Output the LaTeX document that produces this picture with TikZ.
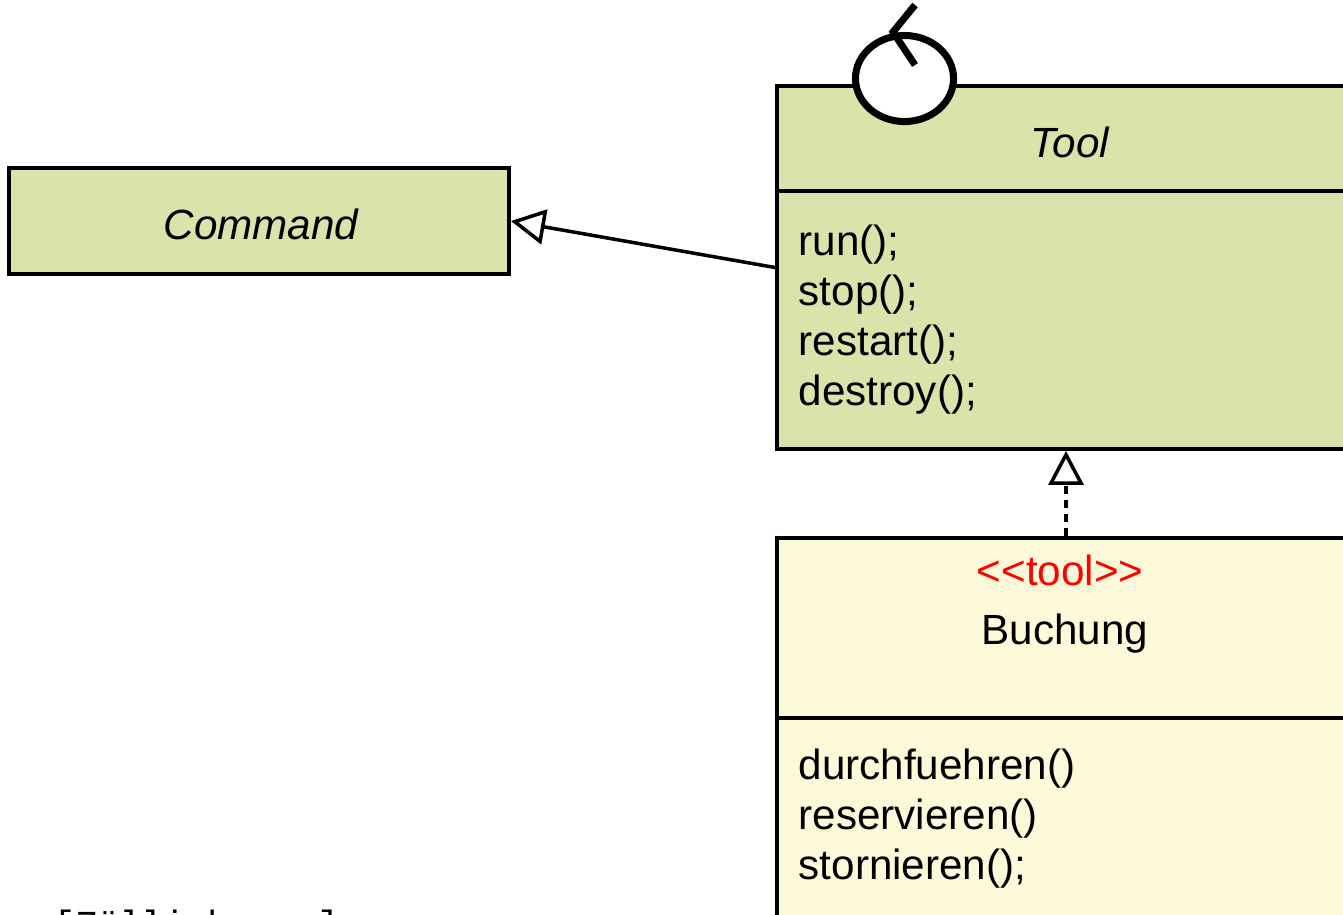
\documentclass[tikz,border=0pt]{standalone}
\usepackage{fontspec}
\setmainfont{Liberation Sans}
\newfontfamily\stereofont{Liberation Sans}
\newfontfamily\citefont{Liberation Mono}
\usetikzlibrary{arrows.meta}

\definecolor{toolgreen}{RGB}{216,228,170}
\definecolor{bookyellow}{RGB}{253,250,218}

\tikzset{
  classbox/.style={draw=black, line width=1pt, rectangle, inner sep=0pt},
  umlfont/.style={font=\fontsize{12pt}{14pt}\selectfont, inner sep=0pt},
  realizes/.style={-{Triangle[open, length=3.4mm, width=3.5mm]}, line width=1pt},
}

\begin{document}
\begin{tikzpicture}[x=0.01cm, y=-0.01cm]

    % page frame (boxes run off the right and bottom)
    \clip (0,0) rectangle (1343,914);

    % Command
    \node[classbox, fill=toolgreen, minimum width=5cm, minimum height=1.06cm] (command) at (259,221) {};
    \node[umlfont] (command-name) at (261,224) {\itshape Command};

    % Tool
    \node[classbox, fill=toolgreen, minimum width=5.78cm, minimum height=3.63cm] (tool) at (1066,267.5) {};
    \coordinate (tool-div) at (1066,191);
    \draw[line width=1pt] (tool.west |- tool-div) -- (tool.east |- tool-div);
    \node[umlfont] (tool-name) at (1070,142) {\itshape Tool};
    \foreach \m [count=\i] in {run();, stop();, restart();, destroy();}
        \node[umlfont, anchor=base west] (tool-m\i) at (798,205+50*\i) {\m};

    % lifecycle symbol on top of Tool
    \draw[line width=2pt, fill=white] (904.5,78.5) ellipse [x radius=4.9mm, y radius=4.3mm];
    \draw[line width=2pt] (915,5) -- (893,32) -- (915,65);

    % Buchung
    \node[classbox, fill=bookyellow, minimum width=5.78cm, minimum height=4.42cm] (buchung) at (1066,759) {};
    \coordinate (buchung-div) at (1066,718);
    \draw[line width=1pt] (buchung.west |- buchung-div) -- (buchung.east |- buchung-div);
    \node[umlfont, anchor=base, text=red] (buchung-stereo) at (1060,585) {\stereofont <<tool>>};
    \node[umlfont, anchor=base] (buchung-name) at (1065,644) {Buchung};
    \foreach \m [count=\i] in {durchfuehren(), reservieren(), stornieren();}
        \node[umlfont, anchor=base west] (buchung-m\i) at (798,729+50*\i) {\m};

    % relations
    \draw[realizes] (tool.west) -- (command.east);
    \draw[realizes, dash pattern=on 2.3pt off 1.7pt] (buchung.north) -- (tool.south);

    % source
    \node[anchor=base west, inner sep=0pt, font=\citefont\fontsize{10.4pt}{12pt}\selectfont] (source) at (53,936) {[Züllighoven]};

\end{tikzpicture}
\end{document}
